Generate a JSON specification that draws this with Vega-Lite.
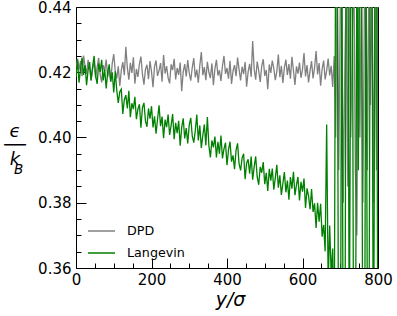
{
"$schema": "https://vega.github.io/schema/vega-lite/v6.json",
"width": 302, "height": 261,
"autosize": "none",
"padding": {"left": 76, "top": 7, "right": 19, "bottom": 48},
"background": "white",
"config": {"view": {"stroke": "#000", "strokeWidth": 1}, "font": "DejaVu Sans"},
"title": {"text": "B", "orient": "top", "anchor": "start", "frame": "group", "offset": 0, "dx": -62, "dy": 187, "fontSize": 13.5, "fontStyle": "italic", "fontWeight": "normal", "font": "DejaVu Sans", "baseline": "alphabetic", "color": "black", "align": "left"},
"data": {"values": [
{"x":0,"s":"DPD","v":0.4215},{"x":4,"s":"DPD","v":0.4242},{"x":8,"s":"DPD","v":0.4208},{"x":12,"s":"DPD","v":0.4235},{"x":16,"s":"DPD","v":0.4188},{"x":20,"s":"DPD","v":0.4251},{"x":24,"s":"DPD","v":0.4220},{"x":28,"s":"DPD","v":0.4195},{"x":32,"s":"DPD","v":0.4238},{"x":36,"s":"DPD","v":0.4211},
{"x":40,"s":"DPD","v":0.4174},{"x":44,"s":"DPD","v":0.4209},{"x":48,"s":"DPD","v":0.4233},{"x":52,"s":"DPD","v":0.4182},{"x":56,"s":"DPD","v":0.4216},{"x":60,"s":"DPD","v":0.4244},{"x":64,"s":"DPD","v":0.4193},{"x":68,"s":"DPD","v":0.4169},{"x":72,"s":"DPD","v":0.4222},{"x":76,"s":"DPD","v":0.4204},
{"x":80,"s":"DPD","v":0.4239},{"x":84,"s":"DPD","v":0.4185},{"x":88,"s":"DPD","v":0.4212},{"x":92,"s":"DPD","v":0.4172},{"x":96,"s":"DPD","v":0.4227},{"x":100,"s":"DPD","v":0.4256},{"x":104,"s":"DPD","v":0.4203},{"x":108,"s":"DPD","v":0.4181},{"x":112,"s":"DPD","v":0.4218},{"x":116,"s":"DPD","v":0.4158},
{"x":120,"s":"DPD","v":0.4206},{"x":124,"s":"DPD","v":0.4231},{"x":128,"s":"DPD","v":0.4191},{"x":132,"s":"DPD","v":0.4278},{"x":136,"s":"DPD","v":0.4214},{"x":140,"s":"DPD","v":0.4177},{"x":144,"s":"DPD","v":0.4229},{"x":148,"s":"DPD","v":0.4198},{"x":152,"s":"DPD","v":0.4246},{"x":156,"s":"DPD","v":0.4165},
{"x":160,"s":"DPD","v":0.4210},{"x":164,"s":"DPD","v":0.4186},{"x":168,"s":"DPD","v":0.4226},{"x":172,"s":"DPD","v":0.4248},{"x":176,"s":"DPD","v":0.4194},{"x":180,"s":"DPD","v":0.4162},{"x":184,"s":"DPD","v":0.4209},{"x":188,"s":"DPD","v":0.4223},{"x":192,"s":"DPD","v":0.4179},{"x":196,"s":"DPD","v":0.4234},
{"x":200,"s":"DPD","v":0.4202},{"x":204,"s":"DPD","v":0.4154},{"x":208,"s":"DPD","v":0.4217},{"x":212,"s":"DPD","v":0.4236},{"x":216,"s":"DPD","v":0.4189},{"x":220,"s":"DPD","v":0.4205},{"x":224,"s":"DPD","v":0.4228},{"x":228,"s":"DPD","v":0.4171},{"x":232,"s":"DPD","v":0.4253},{"x":236,"s":"DPD","v":0.4196},
{"x":240,"s":"DPD","v":0.4219},{"x":244,"s":"DPD","v":0.4183},{"x":248,"s":"DPD","v":0.4166},{"x":252,"s":"DPD","v":0.4224},{"x":256,"s":"DPD","v":0.4207},{"x":260,"s":"DPD","v":0.4241},{"x":264,"s":"DPD","v":0.4178},{"x":268,"s":"DPD","v":0.4213},{"x":272,"s":"DPD","v":0.4192},{"x":276,"s":"DPD","v":0.4230},
{"x":280,"s":"DPD","v":0.4142},{"x":284,"s":"DPD","v":0.4201},{"x":288,"s":"DPD","v":0.4225},{"x":292,"s":"DPD","v":0.4187},{"x":296,"s":"DPD","v":0.4237},{"x":300,"s":"DPD","v":0.4197},{"x":304,"s":"DPD","v":0.4174},{"x":308,"s":"DPD","v":0.4215},{"x":312,"s":"DPD","v":0.4243},{"x":316,"s":"DPD","v":0.4184},
{"x":320,"s":"DPD","v":0.4208},{"x":324,"s":"DPD","v":0.4168},{"x":328,"s":"DPD","v":0.4221},{"x":332,"s":"DPD","v":0.4262},{"x":336,"s":"DPD","v":0.4191},{"x":340,"s":"DPD","v":0.4216},{"x":344,"s":"DPD","v":0.4176},{"x":348,"s":"DPD","v":0.4232},{"x":352,"s":"DPD","v":0.4200},{"x":356,"s":"DPD","v":0.4182},
{"x":360,"s":"DPD","v":0.4227},{"x":364,"s":"DPD","v":0.4160},{"x":368,"s":"DPD","v":0.4211},{"x":372,"s":"DPD","v":0.4238},{"x":376,"s":"DPD","v":0.4190},{"x":380,"s":"DPD","v":0.4206},{"x":384,"s":"DPD","v":0.4173},{"x":388,"s":"DPD","v":0.4220},{"x":392,"s":"DPD","v":0.4250},{"x":396,"s":"DPD","v":0.4195},
{"x":400,"s":"DPD","v":0.4213},{"x":404,"s":"DPD","v":0.4180},{"x":408,"s":"DPD","v":0.4235},{"x":412,"s":"DPD","v":0.4164},{"x":416,"s":"DPD","v":0.4204},{"x":420,"s":"DPD","v":0.4222},{"x":424,"s":"DPD","v":0.4188},{"x":428,"s":"DPD","v":0.4245},{"x":432,"s":"DPD","v":0.4209},{"x":436,"s":"DPD","v":0.4175},
{"x":440,"s":"DPD","v":0.4217},{"x":444,"s":"DPD","v":0.4194},{"x":448,"s":"DPD","v":0.4231},{"x":452,"s":"DPD","v":0.4156},{"x":456,"s":"DPD","v":0.4202},{"x":460,"s":"DPD","v":0.4226},{"x":464,"s":"DPD","v":0.4186},{"x":468,"s":"DPD","v":0.4296},{"x":472,"s":"DPD","v":0.4210},{"x":476,"s":"DPD","v":0.4177},
{"x":480,"s":"DPD","v":0.4233},{"x":484,"s":"DPD","v":0.4205},{"x":488,"s":"DPD","v":0.4170},{"x":492,"s":"DPD","v":0.4219},{"x":496,"s":"DPD","v":0.4240},{"x":500,"s":"DPD","v":0.4189},{"x":504,"s":"DPD","v":0.4207},{"x":508,"s":"DPD","v":0.4148},{"x":512,"s":"DPD","v":0.4224},{"x":516,"s":"DPD","v":0.4198},
{"x":520,"s":"DPD","v":0.4236},{"x":524,"s":"DPD","v":0.4212},{"x":528,"s":"DPD","v":0.4176},{"x":532,"s":"DPD","v":0.4203},{"x":536,"s":"DPD","v":0.4254},{"x":540,"s":"DPD","v":0.4185},{"x":544,"s":"DPD","v":0.4220},{"x":548,"s":"DPD","v":0.4167},{"x":552,"s":"DPD","v":0.4214},{"x":556,"s":"DPD","v":0.4239},
{"x":560,"s":"DPD","v":0.4192},{"x":564,"s":"DPD","v":0.4225},{"x":568,"s":"DPD","v":0.4180},{"x":572,"s":"DPD","v":0.4247},{"x":576,"s":"DPD","v":0.4206},{"x":580,"s":"DPD","v":0.4161},{"x":584,"s":"DPD","v":0.4218},{"x":588,"s":"DPD","v":0.4196},{"x":592,"s":"DPD","v":0.4230},{"x":596,"s":"DPD","v":0.4183},
{"x":600,"s":"DPD","v":0.4209},{"x":604,"s":"DPD","v":0.4259},{"x":608,"s":"DPD","v":0.4187},{"x":612,"s":"DPD","v":0.4222},{"x":616,"s":"DPD","v":0.4169},{"x":620,"s":"DPD","v":0.4204},{"x":624,"s":"DPD","v":0.4234},{"x":628,"s":"DPD","v":0.4181},{"x":632,"s":"DPD","v":0.4215},{"x":636,"s":"DPD","v":0.4265},
{"x":640,"s":"DPD","v":0.4193},{"x":644,"s":"DPD","v":0.4228},{"x":648,"s":"DPD","v":0.4159},{"x":652,"s":"DPD","v":0.4210},{"x":656,"s":"DPD","v":0.4236},{"x":660,"s":"DPD","v":0.4178},{"x":664,"s":"DPD","v":0.4205},{"x":668,"s":"DPD","v":0.4242},{"x":672,"s":"DPD","v":0.4190},{"x":676,"s":"DPD","v":0.4220},
{"x":680,"s":"DPD","v":0.4155},
{"x":684,"s":"DPD","v":0.425},{"x":688,"s":"DPD","v":0.40},{"x":692,"s":"DPD","v":0.45},{"x":696,"s":"DPD","v":0.39},{"x":700,"s":"DPD","v":0.44},{"x":704,"s":"DPD","v":0.45},{"x":708,"s":"DPD","v":0.38},{"x":712,"s":"DPD","v":0.42},{"x":716,"s":"DPD","v":0.45},{"x":720,"s":"DPD","v":0.385},
{"x":724,"s":"DPD","v":0.45},{"x":728,"s":"DPD","v":0.40},{"x":732,"s":"DPD","v":0.43},{"x":736,"s":"DPD","v":0.455},{"x":740,"s":"DPD","v":0.39},{"x":744,"s":"DPD","v":0.37},{"x":748,"s":"DPD","v":0.45},{"x":752,"s":"DPD","v":0.40},{"x":756,"s":"DPD","v":0.45},{"x":760,"s":"DPD","v":0.38},
{"x":764,"s":"DPD","v":0.44},{"x":768,"s":"DPD","v":0.46},{"x":772,"s":"DPD","v":0.39},{"x":776,"s":"DPD","v":0.45},{"x":780,"s":"DPD","v":0.41},{"x":784,"s":"DPD","v":0.45},{"x":788,"s":"DPD","v":0.38},{"x":792,"s":"DPD","v":0.45},{"x":796,"s":"DPD","v":0.39},{"x":800,"s":"DPD","v":0.45},
{"x":0,"s":"Langevin","v":0.4185},{"x":4,"s":"Langevin","v":0.4238},{"x":8,"s":"Langevin","v":0.4168},{"x":12,"s":"Langevin","v":0.4210},{"x":16,"s":"Langevin","v":0.4245},{"x":20,"s":"Langevin","v":0.4192},{"x":24,"s":"Langevin","v":0.4222},{"x":28,"s":"Langevin","v":0.4160},{"x":32,"s":"Langevin","v":0.4206},{"x":36,"s":"Langevin","v":0.4231},
{"x":40,"s":"Langevin","v":0.4176},{"x":44,"s":"Langevin","v":0.4218},{"x":48,"s":"Langevin","v":0.4250},{"x":52,"s":"Langevin","v":0.4189},{"x":56,"s":"Langevin","v":0.4164},{"x":60,"s":"Langevin","v":0.4227},{"x":64,"s":"Langevin","v":0.4201},{"x":68,"s":"Langevin","v":0.4238},{"x":72,"s":"Langevin","v":0.4175},{"x":76,"s":"Langevin","v":0.4208},
{"x":80,"s":"Langevin","v":0.4150},{"x":84,"s":"Langevin","v":0.4201},{"x":88,"s":"Langevin","v":0.4224},{"x":92,"s":"Langevin","v":0.4171},{"x":96,"s":"Langevin","v":0.4200},{"x":100,"s":"Langevin","v":0.4138},{"x":104,"s":"Langevin","v":0.4203},{"x":108,"s":"Langevin","v":0.4144},{"x":112,"s":"Langevin","v":0.4106},{"x":116,"s":"Langevin","v":0.4140},
{"x":120,"s":"Langevin","v":0.4148},{"x":124,"s":"Langevin","v":0.4072},{"x":128,"s":"Langevin","v":0.4116},{"x":132,"s":"Langevin","v":0.4130},{"x":136,"s":"Langevin","v":0.4089},{"x":140,"s":"Langevin","v":0.4143},{"x":144,"s":"Langevin","v":0.4062},{"x":148,"s":"Langevin","v":0.4105},{"x":152,"s":"Langevin","v":0.4087},{"x":156,"s":"Langevin","v":0.4125},
{"x":160,"s":"Langevin","v":0.4056},{"x":164,"s":"Langevin","v":0.4087},{"x":168,"s":"Langevin","v":0.4102},{"x":172,"s":"Langevin","v":0.4030},{"x":176,"s":"Langevin","v":0.4092},{"x":180,"s":"Langevin","v":0.4106},{"x":184,"s":"Langevin","v":0.4051},{"x":188,"s":"Langevin","v":0.4033},{"x":192,"s":"Langevin","v":0.4089},{"x":196,"s":"Langevin","v":0.4058},
{"x":200,"s":"Langevin","v":0.4096},{"x":204,"s":"Langevin","v":0.4031},{"x":208,"s":"Langevin","v":0.4065},{"x":212,"s":"Langevin","v":0.4012},{"x":216,"s":"Langevin","v":0.4056},{"x":220,"s":"Langevin","v":0.4099},{"x":224,"s":"Langevin","v":0.4035},{"x":228,"s":"Langevin","v":0.4064},{"x":232,"s":"Langevin","v":0.3998},{"x":236,"s":"Langevin","v":0.4055},
{"x":240,"s":"Langevin","v":0.4032},{"x":244,"s":"Langevin","v":0.4070},{"x":248,"s":"Langevin","v":0.4008},{"x":252,"s":"Langevin","v":0.4037},{"x":256,"s":"Langevin","v":0.4072},{"x":260,"s":"Langevin","v":0.3995},{"x":264,"s":"Langevin","v":0.4045},{"x":268,"s":"Langevin","v":0.4013},{"x":272,"s":"Langevin","v":0.4051},{"x":276,"s":"Langevin","v":0.3975},
{"x":280,"s":"Langevin","v":0.4031},{"x":284,"s":"Langevin","v":0.4059},{"x":288,"s":"Langevin","v":0.3997},{"x":292,"s":"Langevin","v":0.4029},{"x":296,"s":"Langevin","v":0.3982},{"x":300,"s":"Langevin","v":0.4039},{"x":304,"s":"Langevin","v":0.4060},{"x":308,"s":"Langevin","v":0.4004},{"x":312,"s":"Langevin","v":0.3984},{"x":316,"s":"Langevin","v":0.4021},
{"x":320,"s":"Langevin","v":0.4070},{"x":324,"s":"Langevin","v":0.3991},{"x":328,"s":"Langevin","v":0.4037},{"x":332,"s":"Langevin","v":0.3968},{"x":336,"s":"Langevin","v":0.4007},{"x":340,"s":"Langevin","v":0.4040},{"x":344,"s":"Langevin","v":0.3976},{"x":348,"s":"Langevin","v":0.4063},{"x":352,"s":"Langevin","v":0.3975},{"x":356,"s":"Langevin","v":0.3939},
{"x":360,"s":"Langevin","v":0.3991},{"x":364,"s":"Langevin","v":0.3970},{"x":368,"s":"Langevin","v":0.4003},{"x":372,"s":"Langevin","v":0.3939},{"x":376,"s":"Langevin","v":0.3987},{"x":380,"s":"Langevin","v":0.3950},{"x":384,"s":"Langevin","v":0.4006},{"x":388,"s":"Langevin","v":0.3936},{"x":392,"s":"Langevin","v":0.3965},{"x":396,"s":"Langevin","v":0.3984},
{"x":400,"s":"Langevin","v":0.3915},{"x":404,"s":"Langevin","v":0.3963},{"x":408,"s":"Langevin","v":0.3987},{"x":412,"s":"Langevin","v":0.3926},{"x":416,"s":"Langevin","v":0.3945},{"x":420,"s":"Langevin","v":0.3903},{"x":424,"s":"Langevin","v":0.3961},{"x":428,"s":"Langevin","v":0.3982},{"x":432,"s":"Langevin","v":0.3919},{"x":436,"s":"Langevin","v":0.3899},
{"x":440,"s":"Langevin","v":0.3937},{"x":444,"s":"Langevin","v":0.3950},{"x":448,"s":"Langevin","v":0.3872},{"x":452,"s":"Langevin","v":0.3922},{"x":456,"s":"Langevin","v":0.3933},{"x":460,"s":"Langevin","v":0.3889},{"x":464,"s":"Langevin","v":0.3942},{"x":468,"s":"Langevin","v":0.3871},{"x":472,"s":"Langevin","v":0.3910},{"x":476,"s":"Langevin","v":0.3942},
{"x":480,"s":"Langevin","v":0.3879},{"x":484,"s":"Langevin","v":0.3855},{"x":488,"s":"Langevin","v":0.3910},{"x":492,"s":"Langevin","v":0.3892},{"x":496,"s":"Langevin","v":0.3925},{"x":500,"s":"Langevin","v":0.3857},{"x":504,"s":"Langevin","v":0.3892},{"x":508,"s":"Langevin","v":0.3836},{"x":512,"s":"Langevin","v":0.3904},{"x":516,"s":"Langevin","v":0.3868},
{"x":520,"s":"Langevin","v":0.3905},{"x":524,"s":"Langevin","v":0.3840},{"x":528,"s":"Langevin","v":0.3876},{"x":532,"s":"Langevin","v":0.3916},{"x":536,"s":"Langevin","v":0.3846},{"x":540,"s":"Langevin","v":0.3884},{"x":544,"s":"Langevin","v":0.3824},{"x":548,"s":"Langevin","v":0.3859},{"x":552,"s":"Langevin","v":0.3894},{"x":556,"s":"Langevin","v":0.3832},
{"x":560,"s":"Langevin","v":0.3868},{"x":564,"s":"Langevin","v":0.3809},{"x":568,"s":"Langevin","v":0.3879},{"x":572,"s":"Langevin","v":0.3843},{"x":576,"s":"Langevin","v":0.3895},{"x":580,"s":"Langevin","v":0.3823},{"x":584,"s":"Langevin","v":0.3855},{"x":588,"s":"Langevin","v":0.3879},{"x":592,"s":"Langevin","v":0.3807},{"x":596,"s":"Langevin","v":0.3864},
{"x":600,"s":"Langevin","v":0.3834},{"x":604,"s":"Langevin","v":0.3874},{"x":608,"s":"Langevin","v":0.3784},{"x":612,"s":"Langevin","v":0.3844},{"x":616,"s":"Langevin","v":0.3821},{"x":620,"s":"Langevin","v":0.3780},{"x":624,"s":"Langevin","v":0.3842},{"x":628,"s":"Langevin","v":0.3772},{"x":632,"s":"Langevin","v":0.3798},{"x":636,"s":"Langevin","v":0.3723},
{"x":640,"s":"Langevin","v":0.3800},{"x":644,"s":"Langevin","v":0.3742},{"x":648,"s":"Langevin","v":0.3797},{"x":652,"s":"Langevin","v":0.3696},{"x":656,"s":"Langevin","v":0.3732},{"x":660,"s":"Langevin","v":0.3651},{"x":664,"s":"Langevin","v":0.404},{"x":668,"s":"Langevin","v":0.355},{"x":672,"s":"Langevin","v":0.373},{"x":676,"s":"Langevin","v":0.358},
{"x":680,"s":"Langevin","v":0.366},
{"x":684,"s":"Langevin","v":0.33},{"x":688,"s":"Langevin","v":0.47},{"x":692,"s":"Langevin","v":0.46},{"x":696,"s":"Langevin","v":0.31},{"x":700,"s":"Langevin","v":0.30},{"x":704,"s":"Langevin","v":0.46},{"x":708,"s":"Langevin","v":0.32},{"x":712,"s":"Langevin","v":0.31},{"x":716,"s":"Langevin","v":0.47},{"x":720,"s":"Langevin","v":0.47},
{"x":724,"s":"Langevin","v":0.33},{"x":728,"s":"Langevin","v":0.45},{"x":732,"s":"Langevin","v":0.46},{"x":736,"s":"Langevin","v":0.30},{"x":740,"s":"Langevin","v":0.31},{"x":744,"s":"Langevin","v":0.46},{"x":748,"s":"Langevin","v":0.39},{"x":752,"s":"Langevin","v":0.47},{"x":756,"s":"Langevin","v":0.47},{"x":760,"s":"Langevin","v":0.31},
{"x":764,"s":"Langevin","v":0.30},{"x":768,"s":"Langevin","v":0.46},{"x":772,"s":"Langevin","v":0.34},{"x":776,"s":"Langevin","v":0.33},{"x":780,"s":"Langevin","v":0.47},{"x":784,"s":"Langevin","v":0.46},{"x":788,"s":"Langevin","v":0.31},{"x":792,"s":"Langevin","v":0.45},{"x":796,"s":"Langevin","v":0.46},{"x":800,"s":"Langevin","v":0.32}
]},
"mark": {"type": "line", "clip": true, "strokeWidth": 1.3},
"encoding": {
"x": {"field": "x", "type": "quantitative", "scale": {"domain": [0, 800], "nice": false, "zero": false},
 "axis": {"values": [0,50,100,150,200,250,300,350,400,450,500,550,600,650,700,750,800],
  "labelExpr": "datum.value % 200 === 0 ? datum.label : ''",
  "tickSize": {"condition": {"test": "datum.value % 200 === 0", "value": -10}, "value": -5},
  "labelPadding": 14, "labelFontSize": 15, "labelFont": "DejaVu Sans", "labelColor": "black",
  "labelFlush": false, "labelOverlap": false, "labelBound": false,
  "tickColor": "black", "tickWidth": 1, "domain": false, "grid": false,
  "title": "y/σ", "titleFont": "DejaVu Sans", "titleFontSize": 19, "titleFontStyle": "italic", "titleFontWeight": "normal", "titleColor": "black",
  "titleX": 154, "titleY": 37.5, "titleBaseline": "alphabetic", "titleAlign": "center"}},
"y": {"field": "v", "type": "quantitative", "scale": {"domain": [0.36, 0.44], "nice": false, "zero": false},
 "axis": {"values": [0.36,0.365,0.37,0.375,0.38,0.385,0.39,0.395,0.40,0.405,0.41,0.415,0.42,0.425,0.43,0.435,0.44],
  "labelExpr": "round(datum.value*1000) % 20 === 0 ? format(datum.value, '.2f') : ''",
  "tickSize": {"condition": {"test": "round(datum.value*1000) % 20 === 0", "value": -10}, "value": -5},
  "labelPadding": 15, "labelFontSize": 15, "labelFont": "DejaVu Sans", "labelColor": "black",
  "labelFlush": false, "labelOverlap": false, "labelBound": false,
  "tickColor": "black", "tickWidth": 1, "domain": false, "grid": false,
  "title": ["ϵ", "──", "k\u00a0\u00a0"], "titleFont": "DejaVu Sans", "titleFontSize": 18, "titleFontStyle": "italic", "titleFontWeight": "normal", "titleColor": "black",
  "titleAngle": 0, "titleX": -61.5, "titleY": 124, "titleBaseline": "middle", "titleAlign": "center", "titleLineHeight": 14}},
"color": {"field": "s", "type": "nominal", "scale": {"domain": ["DPD", "Langevin"], "range": ["#808080", "#008000"]},
 "legend": {"orient": "none", "legendX": 11, "legendY": 209.5, "title": null, "symbolType": "stroke", "symbolSize": 729, "symbolStrokeWidth": 1.5,
  "labelFontSize": 12.7, "labelFont": "DejaVu Sans", "labelColor": "black", "labelOffset": 11, "rowPadding": -8, "padding": 0, "labelLimit": 200}}
}
}
